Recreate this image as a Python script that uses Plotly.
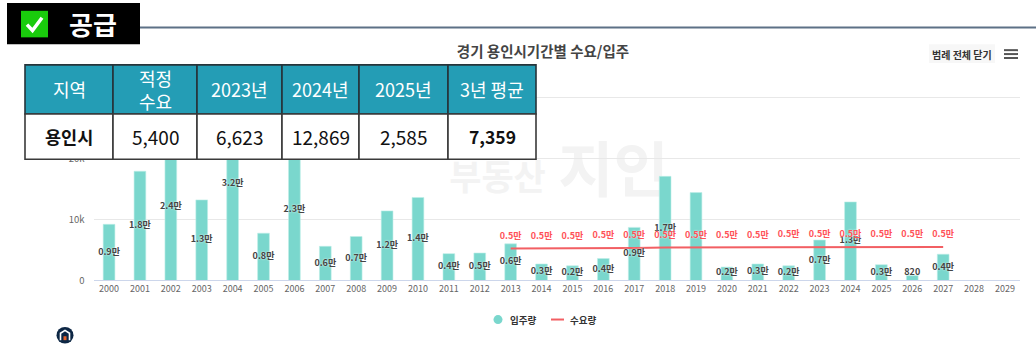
import plotly.graph_objects as go

W, H = 1036, 356
FONT = "Noto Sans CJK KR"

years = [str(y) for y in range(2000, 2030)]
supply = [9200, 17900, 24000, 13200, 31700, 7750, 23100, 5600, 7200, 11400, 13600, 4400, 4500, 6000, 2700,
          2400, 3600, 8700, 17060, 14400, 2200, 2700, 2400, 6623, 12869, 2585, 820, 4300, None, None]
supply_labels = ["0.9만", "1.8만", "2.4만", "1.3만", "3.2만", "0.8만", "2.3만", "0.6만", "0.7만", "1.2만", "1.4만",
                 "0.4만", "0.5만", "0.6만", "0.3만", "0.2만", "0.4만", "0.9만", "1.7만", "", "0.2만", "0.3만",
                 "0.2만", "0.7만", "1.3만", "0.3만", "820", "0.4만", "", ""]
demand = [None] * 13 + [5250, 5250, 5270, 5300, 5320, 5420, 5430, 5440, 5450, 5460, 5470, 5480, 5490, 5500, 5500, None, None]
demand_labels = [""] * 13 + ["0.5만"] * 15 + ["", ""]

table_header = ["지역", "적정<br>수요", "2023년", "2024년", "2025년", "3년 평균"]
table_row = ["용인시", "5,400", "6,623", "12,869", "2,585", "7,359"]
table_bold = [True, False, False, False, False, True]
col_edges = [25, 113, 197, 282, 359, 448, 536]

MINT = "#7ad7cd"
RED = "#f25f63"
RED_TXT = "#ff5258"


def px(x):
    return x / W


def py(y):
    return 1 - y / H


def box(x0, y0, x1, y1, **kw):
    return dict(type="rect", xref="paper", yref="paper", x0=px(x0), x1=px(x1), y0=py(y0), y1=py(y1), **kw)


def line(x0, y0, x1, y1, color, width):
    return dict(type="line", xref="paper", yref="paper", x0=px(x0), x1=px(x1), y0=py(y0), y1=py(y1),
                line=dict(color=color, width=width), layer="above")


def label(x, y, text, size, color, bold=False, anchor="center"):
    return dict(xref="paper", yref="paper", x=px(x), y=py(y), text=f"<b>{text}</b>" if bold else text,
                showarrow=False, xanchor=anchor, yanchor="middle", align="center",
                font=dict(family=FONT, size=size, color=color))


fig = go.Figure()
fig.add_bar(x=years, y=supply, marker=dict(color=MINT, line=dict(color="#bdeee8", width=0.6)), width=0.38,
            name="입주량", showlegend=False, hoverinfo="x+y")
fig.add_scatter(x=years, y=demand, mode="lines", line=dict(color=RED, width=2), name="수요량",
                showlegend=False, connectgaps=False)
fig.add_scatter(x=years, y=[None if v is None else max(v / 2, 1250) for v in supply], mode="text", text=supply_labels,
                textposition="middle center", showlegend=False, hoverinfo="skip",
                textfont=dict(family=FONT, size=9, color="#444444", weight=600, shadow="0 0 2px #ffffff"))
fig.add_scatter(x=years, y=[None if v is None else v + 1950 for v in demand], mode="text", text=demand_labels,
                textposition="middle center", showlegend=False, hoverinfo="skip",
                textfont=dict(family=FONT, size=9, color=RED_TXT, weight=700, shadow="0 0 2px #ffffff"))

shapes = []
annotations = []

# watermark behind the bars
shapes.append(box(445, 160, 550, 208, layer="below", line=dict(width=0), fillcolor="rgba(0,0,0,0)",
                  label=dict(text="<b>부동산</b>", font=dict(family=FONT, size=35, color="#f3f3f3"),
                             textposition="middle center")))
shapes.append(box(552, 145, 675, 212, layer="below", line=dict(width=0), fillcolor="rgba(0,0,0,0)",
                  label=dict(text="<b>지인</b>", font=dict(family=FONT, size=60, color="#f3f3f3"),
                             textposition="middle center")))

# top rule and badge
shapes.append(line(140, 28, W, 28, "#5d7186", 2))
shapes.append(box(7, 3, 140, 45, layer="above", fillcolor="#000000", line=dict(width=0)))
shapes.append(box(21, 11, 48, 38, layer="above", fillcolor="#19cc0c", line=dict(width=0)))
shapes.append(dict(type="path", xref="paper", yref="paper", layer="above", line=dict(color="#ffffff", width=3.5),
                   path=f"M {px(27)} {py(25)} L {px(32.5)} {py(31)} L {px(42)} {py(18)}"))
annotations.append(label(93, 24, "공급", 26, "#ffffff", True))

# summary table
for i in range(len(table_header)):
    shapes.append(box(col_edges[i], 66, col_edges[i + 1], 116, layer="above", fillcolor="#249db5",
                      line=dict(color="#26343a", width=1.6)))
    shapes.append(box(col_edges[i], 116, col_edges[i + 1], 162, layer="above", fillcolor="#ffffff",
                      line=dict(color="#3a3a3a", width=1.6)))
    cx = (col_edges[i] + col_edges[i + 1]) / 2
    annotations.append(label(cx, 91, table_header[i], 18, "#ffffff"))
    annotations.append(label(cx, 139, table_row[i], 17.5 if table_bold[i] else 19, "#111111", table_bold[i]))

# menu button and icon
shapes.append(box(929, 45, 995, 64, layer="above", fillcolor="#f7f7f7", line=dict(width=0)))
annotations.append(label(962, 55, "범례 전체 닫기", 10, "#333333", True))
for yy in (51, 55, 59):
    shapes.append(line(1004, yy, 1018, yy, "#555555", 2))

# legend
shapes.append(dict(type="circle", xref="paper", yref="paper", layer="above", fillcolor=MINT, line=dict(width=0),
                   x0=px(493.5), x1=px(502.5), y0=py(329.5), y1=py(320.5)))
annotations.append(label(508, 325, "입주량", 9.5, "#333333", True, "left"))
shapes.append(line(551, 325, 564, 325, RED, 2))
annotations.append(label(568, 325, "수요량", 9.5, "#333333", True, "left"))

# logo
shapes.append(dict(type="circle", xref="paper", yref="paper", layer="above", fillcolor="#0d2745", line=dict(width=0),
                   x0=px(56.5), x1=px(73.5), y0=py(349.5), y1=py(332.5)))
shapes.append(dict(type="path", xref="paper", yref="paper", layer="above", line=dict(color="#ffffff", width=1.6),
                   path=f"M {px(60.5)} {py(346)} L {px(60.5)} {py(339)} L {px(65)} {py(336)} L {px(69.5)} {py(339)} L {px(69.5)} {py(346)}"))
shapes.append(box(63.5, 342, 66.5, 346, layer="above", fillcolor="#e8622c", line=dict(width=0)))

fig.update_layout(
    width=W, height=H, margin=dict(l=0, r=0, t=0, b=0), paper_bgcolor="#ffffff", plot_bgcolor="#ffffff",
    font=dict(family=FONT),
    title=dict(text="<b>경기 용인시기간별 수요/입주</b>", x=543 / W, xanchor="center", y=py(52), yanchor="middle",
               font=dict(family=FONT, size=14.5, color="#444444")),
    shapes=shapes, annotations=annotations, showlegend=False,
    xaxis=dict(domain=[93.6 / W, 1020.4 / W], type="category", categoryorder="array", categoryarray=years,
               range=[-0.5, 29.5], tickmode="array", tickvals=years, ticktext=years, showgrid=False, zeroline=False,
               showline=True, linecolor="#ccd6eb", linewidth=1, ticks="",
               tickfont=dict(family=FONT, size=9, color="#666666")),
    yaxis=dict(domain=[py(285.3), py(80.4)], range=[0, 33000], tickmode="array", tickvals=[0, 10000, 20000, 30000],
               ticktext=["0", "10k", "20k", ""], gridcolor="#e8e8e8", gridwidth=1, zeroline=False, showline=False,
               ticklabelstandoff=8, tickfont=dict(family=FONT, size=9.5, color="#666666")),
)

fig.write_html("out.html", config=dict(displayModeBar=False, responsive=False),
               post_script="document.body.style.margin='0';document.body.style.overflow='hidden';")
